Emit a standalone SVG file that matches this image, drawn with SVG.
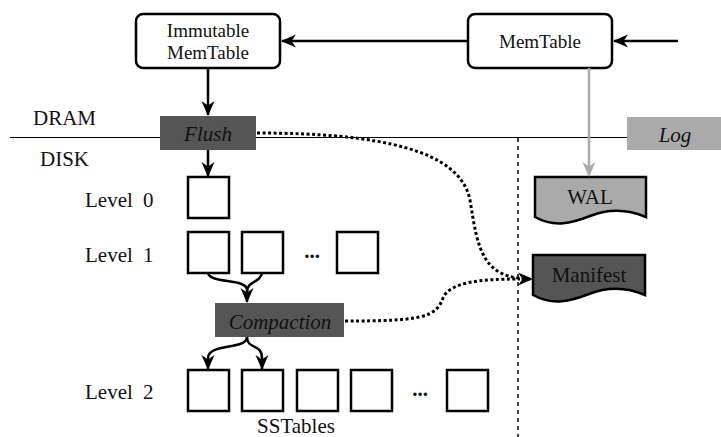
<svg xmlns="http://www.w3.org/2000/svg" width="721" height="437" viewBox="0 0 721 437">
<style>
.t{font-family:"Liberation Serif","Times New Roman",serif;fill:#111}
.bt{font-size:19px;text-anchor:middle}
.lt{font-size:21px}
.it{font-size:21px;font-style:italic;text-anchor:middle}
.box{fill:#fff;stroke:#000;stroke-width:2.5}
.sst{fill:#fff;stroke:#000;stroke-width:2.5}
.dark{fill:#555}
.light{fill:#aaa}
.c{fill:none;stroke:#000;stroke-width:2.5}
.g{fill:none;stroke:#aaa;stroke-width:2.5}
.dot{fill:none;stroke:#000;stroke-width:3;stroke-dasharray:3 2.5}
</style>
<defs>
<marker id="ah" markerUnits="userSpaceOnUse" markerWidth="16" markerHeight="16" refX="14" refY="8" orient="auto">
<path d="M0,1.5 L15,8 L0,14.5 L4.5,8 z" fill="#000"/>
</marker>
<marker id="ahg" markerUnits="userSpaceOnUse" markerWidth="16" markerHeight="16" refX="14" refY="8" orient="auto">
<path d="M0,1.5 L15,8 L0,14.5 L4.5,8 z" fill="#aaa"/>
</marker>
</defs>

<line x1="10" y1="137.5" x2="627" y2="137.5" stroke="#000" stroke-width="1"/>
<line x1="518" y1="138" x2="518" y2="437" stroke="#000" stroke-width="1.5" stroke-dasharray="4 4"/>
<text class="t lt" x="33" y="125">DRAM</text>
<text class="t lt" x="40" y="166">DISK</text>

<g id="immutable">
<rect class="box" x="136" y="14" width="144" height="54" rx="7"/>
<text class="t bt" x="208" y="37">Immutable</text>
<text class="t bt" x="208" y="59">MemTable</text>
</g>
<g id="memtable">
<rect class="box" x="468" y="14" width="144" height="54" rx="7"/>
<text class="t bt" x="540" y="48">MemTable</text>
</g>
<g id="flush">
<rect class="dark" x="160" y="116" width="96" height="34"/>
<text class="t it" x="208" y="141">Flush</text>
</g>
<g id="log">
<rect class="light" x="627" y="117" width="94" height="33"/>
<text class="t it" x="675" y="142">Log</text>
</g>
<g id="wal">
<path class="light" stroke="#000" stroke-width="2.5" d="M535,177 H646 V217 C625,208 605,210 590,216 C572,223 555,228 535,217 Z"/>
<text class="t lt" x="590" y="204" text-anchor="middle">WAL</text>
</g>
<g id="manifest">
<path class="dark" stroke="#000" stroke-width="2.5" d="M533,255 H645 V295 C624,286 604,288 589,294 C571,301 553,306 533,295 Z"/>
<text class="t lt" x="589" y="282" text-anchor="middle">Manifest</text>
</g>
<g id="level0">
<text class="t lt" x="85" y="207" word-spacing="5">Level 0</text>
<rect class="sst" x="188" y="177" width="41" height="41"/>
</g>
<g id="level1">
<text class="t lt" x="85" y="262" word-spacing="5">Level 1</text>
<rect class="sst" x="188" y="232" width="41" height="41"/>
<rect class="sst" x="242" y="232" width="41" height="41"/>
<text class="t" x="312" y="258" font-size="21" font-weight="bold" text-anchor="middle">...</text>
<rect class="sst" x="337" y="232" width="41" height="41"/>
</g>
<g id="compaction">
<rect class="dark" x="215" y="303" width="129" height="34"/>
<text class="t it" x="280" y="329">Compaction</text>
</g>
<g id="level2">
<text class="t lt" x="85" y="399" word-spacing="5">Level 2</text>
<rect class="sst" x="188" y="370" width="41" height="41"/>
<rect class="sst" x="242" y="370" width="41" height="41"/>
<rect class="sst" x="297" y="370" width="41" height="41"/>
<rect class="sst" x="351" y="370" width="41" height="41"/>
<text class="t" x="420" y="396" font-size="21" font-weight="bold" text-anchor="middle">...</text>
<rect class="sst" x="447" y="370" width="41" height="41"/>
<text class="t lt" x="296" y="433" text-anchor="middle">SSTables</text>
</g>

<g id="connectors">
<line class="c" x1="678" y1="41" x2="614" y2="41" marker-end="url(#ah)"/>
<line class="c" x1="468" y1="41" x2="282" y2="41" marker-end="url(#ah)"/>
<line class="c" x1="208" y1="68" x2="208" y2="115" marker-end="url(#ah)"/>
<line class="c" x1="208" y1="150" x2="208" y2="176" marker-end="url(#ah)"/>
<line class="g" x1="589" y1="68" x2="589" y2="176" marker-end="url(#ahg)"/>
<path class="c" d="M208,273 C210,284 247,278 247,290 L247,302" marker-end="url(#ah)"/>
<path class="c" d="M262,273 C260,284 247,280 247,292"/>
<path class="c" d="M247,337 C247,350 208,343 208,358 L208,369" marker-end="url(#ah)"/>
<path class="c" d="M247,337 C247,350 262,343 262,358 L262,369" marker-end="url(#ah)"/>
<path class="dot" d="M257,133 C380,133 460,150 470,200 C478,250 482,279 532,279" marker-end="url(#ah)"/>
<path class="dot" d="M345,321 C420,321 436,318 443,298 C450,282 480,279 520,279"/>
</g>
</svg>
